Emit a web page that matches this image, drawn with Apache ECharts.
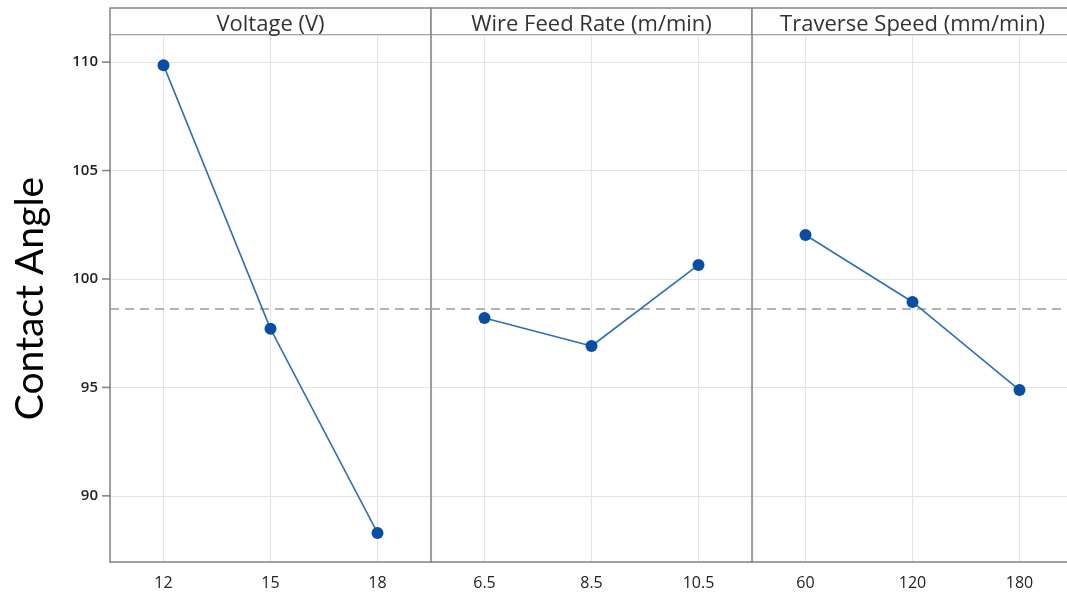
<!DOCTYPE html>
<html>
<head>
<meta charset="utf-8">
<script src="https://cdn.jsdelivr.net/npm/echarts@6/dist/echarts.min.js"></script>
<style>
  html, body { margin: 0; padding: 0; background: #fff; }
  #chart { width: 1067px; height: 594px; }
</style>
</head>
<body>
<div id="chart"></div>
<script>
// main effects data
const panelTitles = ['Voltage (V)', 'Wire Feed Rate (m/min)', 'Traverse Speed (mm/min)'];
const voltageLevels = ['12', '15', '18'];
const voltageMeans = [109.86, 97.70, 88.29];
const wireLevels = ['6.5', '8.5', '10.5'];
const wireMeans = [98.20, 96.91, 100.65];
const speedLevels = ['60', '120', '180'];
const speedMeans = [102.03, 98.94, 94.88];
const yTicks = [90, 95, 100, 105, 110];
const yTitle = 'Contact Angle';

const levels = [voltageLevels, wireLevels, speedLevels];
const means = [voltageMeans, wireMeans, speedMeans];
const allMeans = [].concat(voltageMeans, wireMeans, speedMeans);
const grandMean = allMeans.reduce((a, b) => a + b, 0) / allMeans.length;

const chart = echarts.init(document.getElementById('chart'));

const panelLeft = [110, 431, 752];
const panelWidth = 321;
const yMin = 86.95;
const yMax = 111.25;
const axisColor = '#858585';
const gridColor = '#e4e4e4';
const font = '"Open Sans", "Noto Sans", sans-serif';

const grids = [];
const xAxes = [];
const yAxes = [];
const series = [];
const graphics = [];

levels.forEach((cats, i) => {
  grids.push({ left: panelLeft[i], width: panelWidth, top: 35, bottom: 32, outerBoundsMode: 'none', containLabel: false });
  xAxes.push({
    gridIndex: i,
    type: 'value',
    min: -0.5,
    max: cats.length - 0.5,
    splitNumber: cats.length,
    axisLine: { show: true, onZero: false, lineStyle: { color: axisColor, width: 1.5 } },
    axisTick: { show: false },
    axisLabel: {
      margin: 13,
      color: '#222',
      fontSize: 16,
      fontFamily: font,
      showMinLabel: false,
      showMaxLabel: false,
      formatter: v => (Number.isInteger(v) && cats[v] !== undefined ? cats[v] : '')
    },
    splitLine: { show: true, lineStyle: { color: gridColor, width: 1.2 } }
  });
  yAxes.push({
    gridIndex: i,
    type: 'value',
    min: yMin,
    max: yMax,
    splitNumber: 5,
    name: i === 0 ? yTitle : '',
    nameLocation: 'middle',
    nameGap: 60,
    nameRotate: 90,
    nameTextStyle: { fontSize: 39, color: '#000', fontFamily: 'Lato, "Open Sans", sans-serif' },
    axisLine: { show: true, onZero: false, lineStyle: { color: axisColor, width: 1.5 } },
    axisTick: { show: false },
    axisLabel: {
      show: i === 0,
      customValues: yTicks,
      margin: 12,
      color: '#222',
      fontSize: 15,
      fontWeight: 600,
      fontFamily: font
    },
    splitLine: { show: true, lineStyle: { color: gridColor, width: 1.2 } }
  });
  series.push({
    type: 'line',
    xAxisIndex: i,
    yAxisIndex: i,
    data: means[i].map((v, k) => [k, v]),
    symbol: 'circle',
    symbolSize: 12,
    itemStyle: { color: '#0a4ea3' },
    lineStyle: { color: '#2f6fb8', width: 1.6 },
    z: 5,
    markLine: {
      silent: true,
      symbol: 'none',
      label: { show: false },
      lineStyle: { color: '#9a9a9a', type: [9, 6], width: 1.5 },
      data: [{ yAxis: grandMean }]
    }
  });
  graphics.push({
    type: 'rect',
    shape: { x: panelLeft[i], y: 8, width: panelWidth, height: 27 },
    style: { fill: '#fff', stroke: axisColor, lineWidth: 1.5 }
  });
  graphics.push({
    type: 'text',
    x: panelLeft[i] + panelWidth / 2,
    y: 25,
    z: 10,
    style: {
      text: panelTitles[i],
      fontSize: 22,
      fontFamily: font,
      fill: '#333',
      align: 'center',
      verticalAlign: 'middle'
    }
  });
});

// short left-pointing ticks on the first y axis, drawn as tiny bars at the left edge
series.push({
  type: 'scatter',
  xAxisIndex: 0,
  yAxisIndex: 0,
  clip: false,
  silent: true,
  data: yTicks.map(v => [-0.5, v]),
  symbol: 'rect',
  symbolSize: [8, 1.6],
  symbolOffset: [-4, 0],
  itemStyle: { color: '#666' },
  z: 20
});

chart.setOption({
  backgroundColor: '#fff',
  animation: false,
  grid: grids,
  xAxis: xAxes,
  yAxis: yAxes,
  series: series,
  graphic: graphics
});
</script>
</body>
</html>
